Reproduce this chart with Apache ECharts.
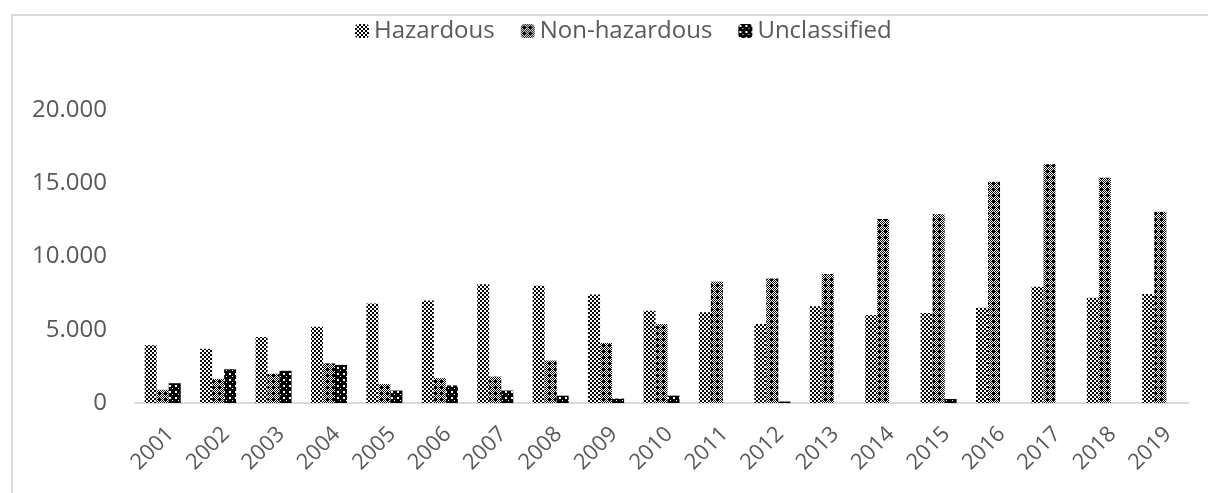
<!DOCTYPE html>
<html>
<head>
<meta charset="utf-8">
<script src="https://cdn.jsdelivr.net/npm/echarts@6/dist/echarts.min.js"></script>
<style>
html,body{margin:0;padding:0;background:#fff;}
#chart{width:1208px;height:493px;}
</style>
</head>
<body>
<div id="chart"></div>
<script>
// waste amounts per year
var years = ['2001','2002','2003','2004','2005','2006','2007','2008','2009','2010',
             '2011','2012','2013','2014','2015','2016','2017','2018','2019'];
var hazardous    = [3950,3700,4500,5200,6800,7000,8100,8000,7400,6300,6200,5400,6600,6000,6140,6500,7940,7190,7440];
var nonHazardous = [900,1650,2000,2700,1300,1700,1800,2900,4100,5400,8300,8500,8800,12560,12880,15100,16300,15380,13060];
var unclassified = [1350,2300,2200,2600,850,1200,850,500,300,500,0,100,0,0,270,0,0,0,0];
var yTicks = [0,5000,10000,15000,20000];

// small canvas tiles for the hatch fills
function makeTile(size, draw){
    var c = document.createElement('canvas');
    c.width = size; c.height = size;
    var ctx = c.getContext('2d');
    ctx.fillStyle = '#fff';
    ctx.fillRect(0,0,size,size);
    ctx.fillStyle = '#000';
    draw(ctx);
    return {image:c, repeat:'repeat'};
}
// fine checker
var patHaz = makeTile(4,function(ctx){
    ctx.fillRect(0,0,2,2);
    ctx.fillRect(2,2,2,2);
});
// checker with black crosses
var patNon = makeTile(6,function(ctx){
    for(var x=0;x<6;x++){
        for(var y=0;y<6;y++){
            if((x+y)%2===0) ctx.fillRect(x,y,1,1);
        }
    }
    ctx.fillRect(1,3,5,1);
    ctx.fillRect(3,1,1,5);
    ctx.fillRect(2,2,3,3);
});
// dark with white dots
var patUnc = makeTile(6,function(ctx){
    ctx.fillRect(0,0,6,6);
    ctx.fillStyle = '#fff';
    ctx.fillRect(1,1,2,2);
    ctx.fillRect(4,4,1,1);
});

var myChart = echarts.init(document.getElementById('chart'));
var fontName = 'Open Sans';
var option = {
    backgroundColor:'#fff',
    animation:false,
    textStyle:{fontFamily:fontName,color:'#595959'},
    graphic:[{
        type:'rect',
        shape:{x:12,y:15,width:1230,height:520},
        style:{fill:'none',stroke:'#d9d9d9',lineWidth:2},
        silent:true
    }],
    legend:{
        top:14,
        left:350,
        itemWidth:14,
        itemHeight:14,
        itemGap:26,
        itemStyle:{borderWidth:0},
        textStyle:{fontFamily:fontName,fontSize:24,color:'#595959'},
        data:['Hazardous','Non-hazardous','Unclassified']
    },
    grid:{
        left:135,
        right:20,
        top:110,
        bottom:90,
        containLabel:false
    },
    xAxis:{
        type:'category',
        data:years,
        axisLine:{lineStyle:{color:'#d9d9d9',width:2}},
        axisTick:{show:false},
        axisLabel:{
            rotate:45,
            interval:0,
            margin:20,
            verticalAlign:'top',
            fontFamily:fontName,
            fontSize:22,
            color:'#595959'
        }
    },
    yAxis:{
        type:'value',
        min:0,
        max:20000,
        interval:5000,
        splitLine:{show:false},
        axisLine:{show:false},
        axisTick:{show:false},
        axisLabel:{
            margin:28,
            fontFamily:fontName,
            fontSize:24,
            color:'#595959',
            formatter:function(v){
                if(yTicks.indexOf(v) < 0) return '';
                return v === 0 ? '0' : String(v).replace(/\B(?=(\d{3})+(?!\d))/g,'.');
            }
        }
    },
    series:[
        {name:'Hazardous',type:'bar',data:hazardous,barGap:'0%',barCategoryGap:'35%',
         itemStyle:{color:patHaz}},
        {name:'Non-hazardous',type:'bar',data:nonHazardous,
         itemStyle:{color:patNon}},
        {name:'Unclassified',type:'bar',data:unclassified,
         itemStyle:{color:patUnc}}
    ]
};
myChart.setOption(option);
</script>
</body>
</html>
